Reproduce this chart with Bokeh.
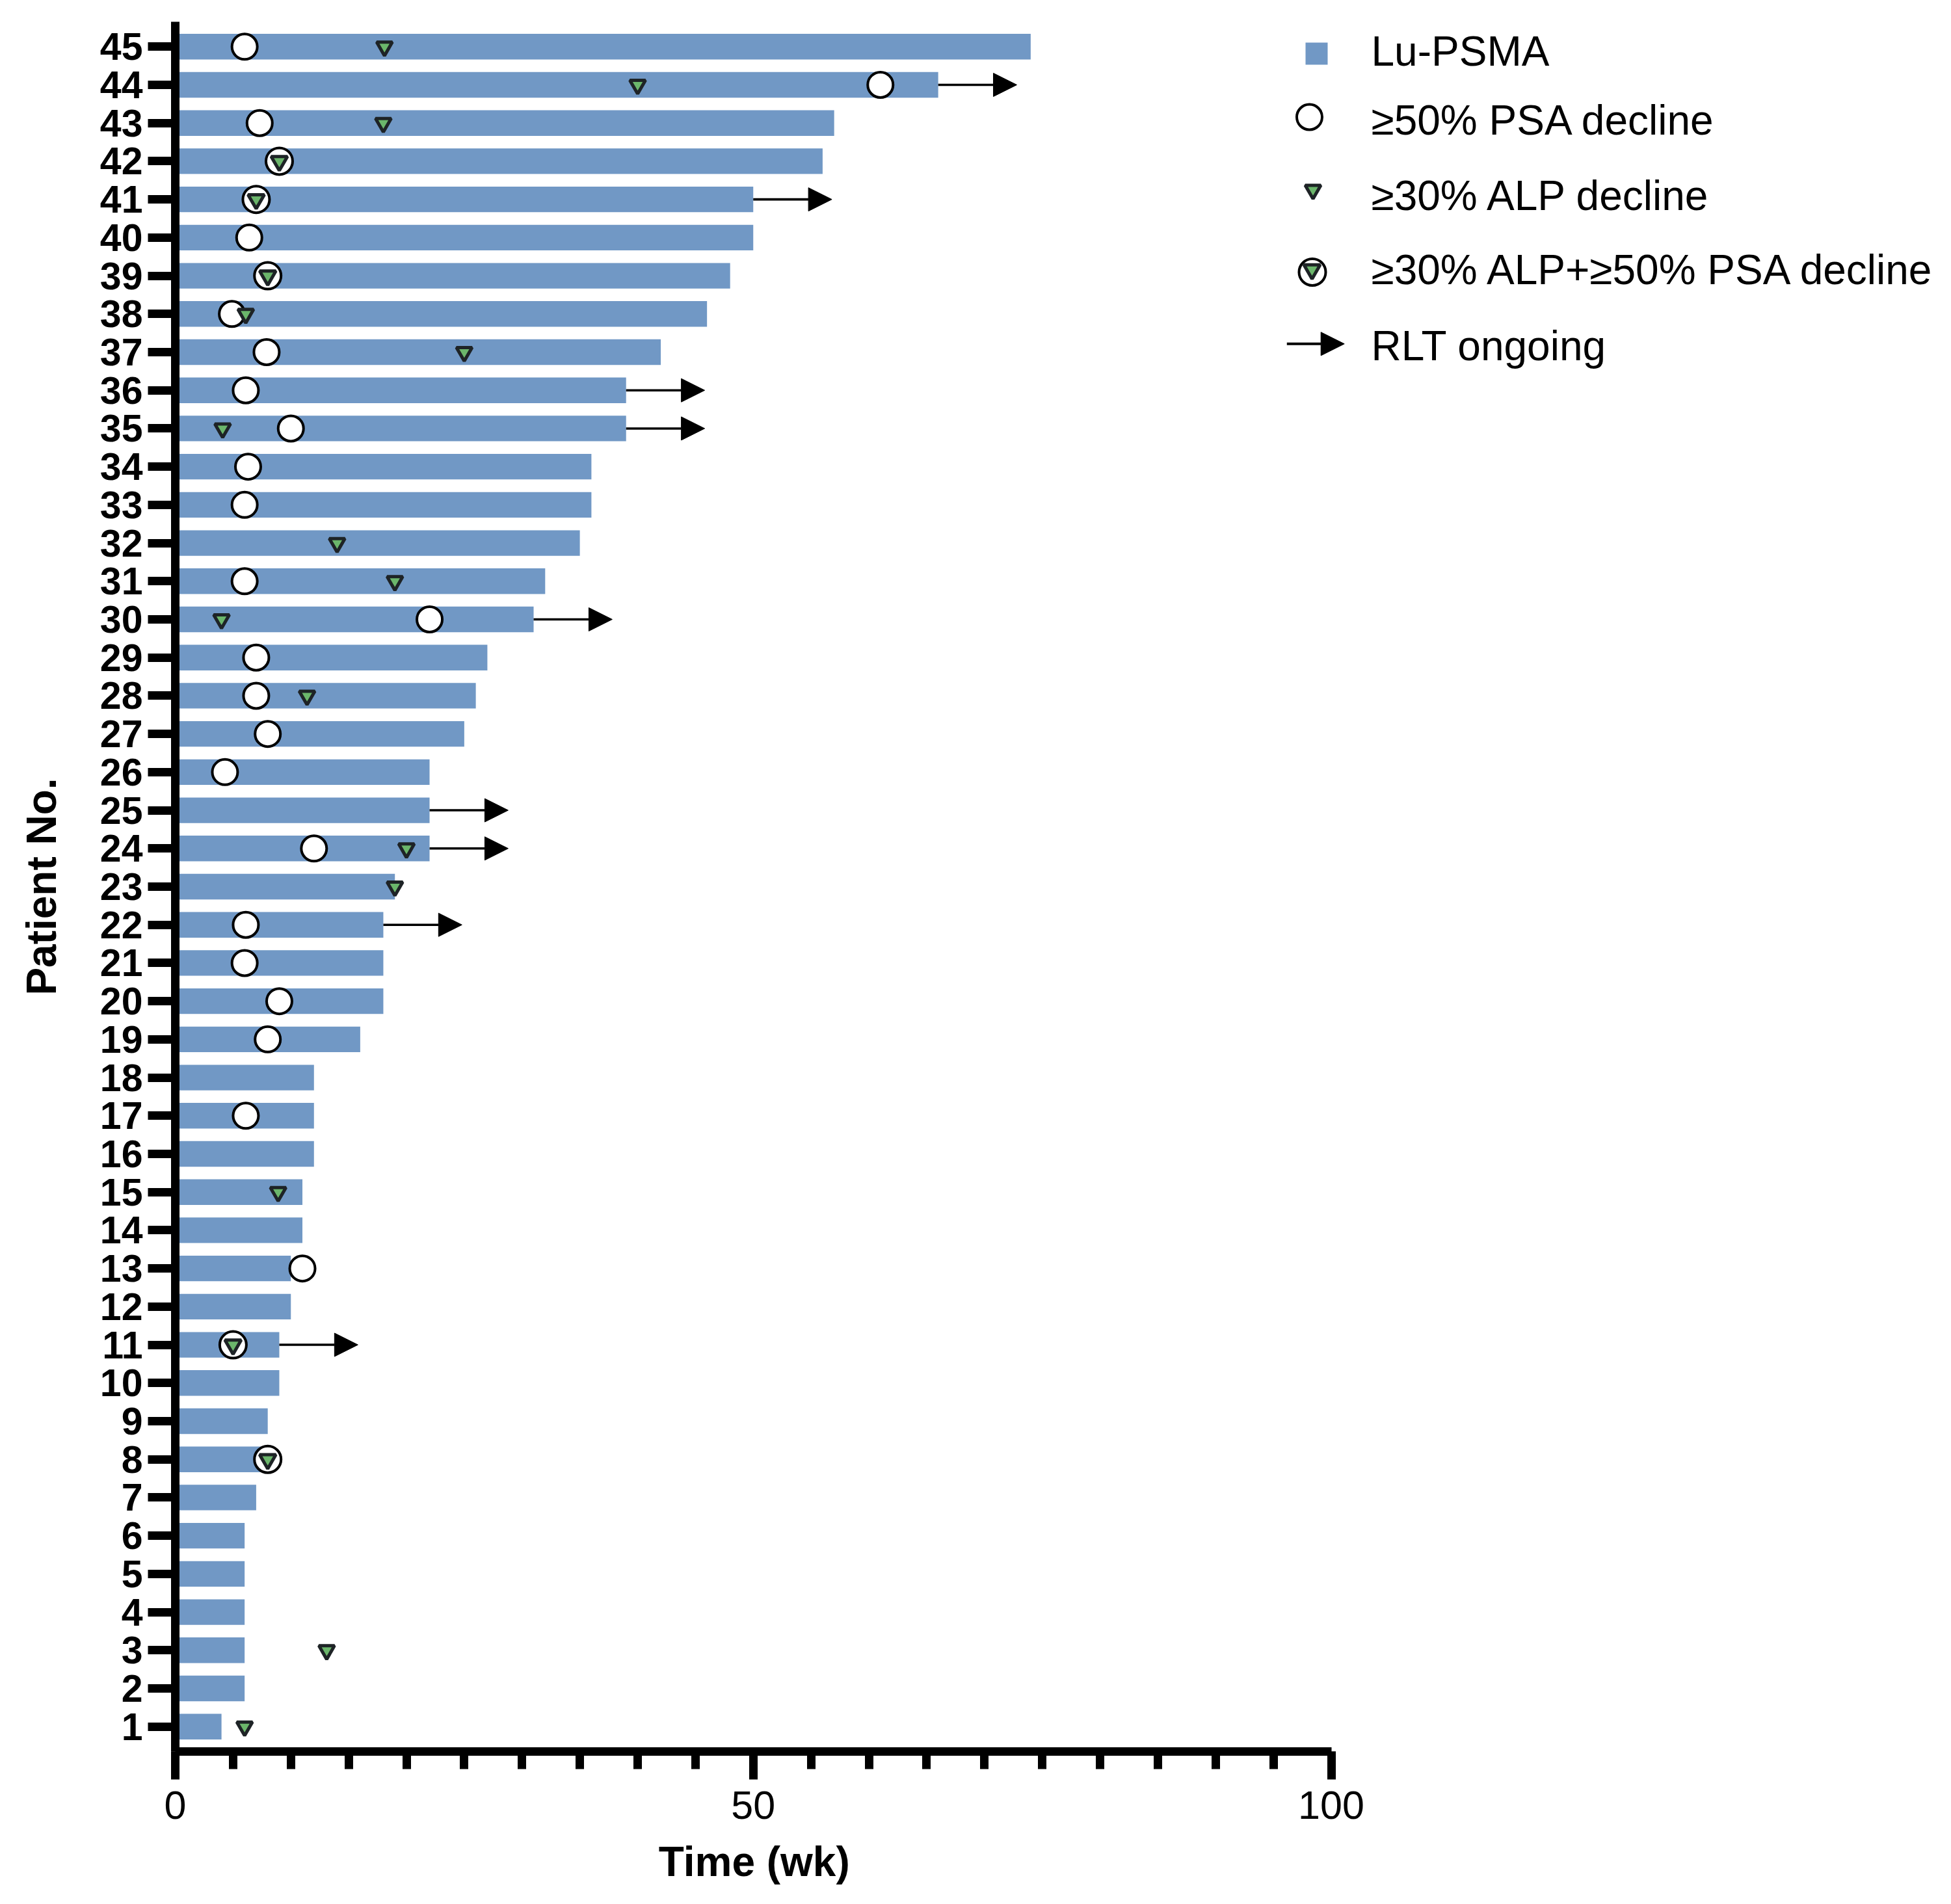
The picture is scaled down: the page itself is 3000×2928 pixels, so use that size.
from bokeh.plotting import figure
from bokeh.models import ColumnDataSource, Range1d, FixedTicker, Arrow, NormalHead, Title
from bokeh.core.properties import value
from bokeh.embed import file_html
from bokeh.resources import INLINE

# ---------------- data ----------------
patients = list(range(1, 46))
duration_wk = [4, 6, 6, 6, 6, 6, 7, 8, 8, 9, 9, 10, 10, 11, 11, 12, 12, 12, 16, 18,
               18, 18, 19, 22, 22, 22, 25, 26, 27, 31, 32, 35, 36, 36, 39, 39, 42, 46,
               48, 50, 50, 56, 57, 66, 74]
ongoing_patients = [11, 22, 24, 25, 30, 35, 36, 41, 44]

psa_patients = [13, 17, 19, 20, 21, 22, 24, 26, 27, 28, 29, 30, 31, 33, 34, 35, 36,
                37, 38, 40, 43, 44, 45]
psa_week = [11, 6.1, 8, 9, 6, 6.1, 12, 4.3, 8, 7, 7, 22, 6, 6, 6.3, 10, 6.1,
            7.9, 4.9, 6.4, 7.3, 61, 6]

alp_patients = [1, 3, 15, 23, 24, 28, 30, 31, 32, 35, 37, 38, 43, 44, 45]
alp_week = [6, 13.1, 8.9, 19, 20, 11.4, 4, 19, 14, 4.1, 25, 6.1, 18, 40, 18.1]

both_patients = [8, 11, 39, 41, 42]
both_week = [8, 5, 8, 7, 9]

legend_labels = ["Lu-PSMA", "\u226550% PSA decline", "\u226530% ALP decline",
                 "\u226530% ALP+\u226550% PSA decline", "RLT ongoing"]
x_ticks = [0, 50, 100]
x_minor_ticks = list(range(0, 101, 5))

# ---------------- style / layout ----------------
BAR_COLOR = "#7198C5"
GREEN = "#6BB66B"
DARK = "#1E2326"
FONT = "Liberation Sans"
ARROW_WK = 6.8          # drawn length of the "ongoing" arrow, in weeks

W, H = 2996, 2928
BORDER_L, BORDER_T = 269, 33
FRAME_W = W - BORDER_L
FRAME_H = 2660
BORDER_B = H - BORDER_T - FRAME_H
PX_PER_WK = 17.775
Y0, Y1 = 0.348, 45.652
X_TITLE_W = 291          # rendered width of the x title text, px

p = figure(width=W, height=H,
           x_range=Range1d(0, FRAME_W / PX_PER_WK),
           y_range=Range1d(Y0, Y1),
           output_backend="svg", toolbar_location=None,
           min_border_left=BORDER_L, min_border_right=0,
           min_border_top=BORDER_T, min_border_bottom=BORDER_B)
p.extra_x_ranges = {"px": Range1d(0, FRAME_W)}
p.extra_y_ranges = {"px": Range1d(FRAME_H, 0)}
p.outline_line_color = None
p.grid.visible = False
p.background_fill_color = "white"

# bars
bars = ColumnDataSource(dict(y=patients, right=duration_wk))
p.hbar(y="y", left=0, right="right", height=0.67, source=bars,
       fill_color=BAR_COLOR, line_color=None)

# ongoing arrows
dur = dict(zip(patients, duration_wk))
arr = ColumnDataSource(dict(
    x0=[dur[k] for k in ongoing_patients],
    x1=[dur[k] + ARROW_WK for k in ongoing_patients],
    y=ongoing_patients))
p.add_layout(Arrow(x_start="x0", y_start="y", x_end="x1", y_end="y", source=arr,
                   line_width=3.6, line_color="black",
                   end=NormalHead(size=36, fill_color="black", line_color="black",
                                  line_width=1)))

# PSA circles
p.scatter(x=psa_week, y=psa_patients, marker="circle", size=39,
          fill_color="white", line_color="black", line_width=4)
# combined circles
p.scatter(x=both_week, y=both_patients, marker="circle", size=41,
          fill_color="white", line_color="black", line_width=4)
# ALP triangles
p.scatter(x=alp_week, y=alp_patients, marker="inverted_triangle", size=24,
          fill_color=GREEN, line_color=DARK, line_width=5)
p.scatter(x=both_week, y=both_patients, marker="inverted_triangle", size=25,
          fill_color=GREEN, line_color=DARK, line_width=5)

# ---------------- axes ----------------
xa = p.xaxis[0]
xa.ticker = FixedTicker(ticks=x_ticks, minor_ticks=x_minor_ticks)
xa.bounds = (0, 100)
xa.axis_line_width = 13
xa.major_tick_line_width = 13
xa.minor_tick_line_width = 13
xa.major_tick_out = 43
xa.major_tick_in = 0
xa.minor_tick_out = 27
xa.minor_tick_in = 0
xa.major_label_text_font = FONT
xa.major_label_text_font_size = "61px"
xa.major_label_text_color = "black"
xa.major_label_standoff = 18

ya = p.yaxis[0]
ya.ticker = FixedTicker(ticks=patients, minor_ticks=[])
ya.axis_line_width = 13
ya.major_tick_line_width = 13
ya.major_tick_out = 42
ya.major_tick_in = 0
ya.minor_tick_out = 0
ya.minor_tick_in = 0
ya.major_label_text_font = FONT
ya.major_label_text_font_style = "bold"
ya.major_label_text_font_size = "59px"
ya.major_label_text_color = "black"
ya.major_label_standoff = 8
ya.axis_label = "Patient No."
ya.axis_label_text_font = FONT
ya.axis_label_text_font_style = "bold"
ya.axis_label_text_font_size = "64px"
ya.axis_label_text_color = "black"
ya.axis_label_standoff = 51

# x-axis title, centred under the 0-100 span of the (bounded) x axis
p.add_layout(Title(text="Time (wk)", align="left",
                   offset=50 * PX_PER_WK - X_TITLE_W / 2, standoff=51,
                   text_font=FONT, text_font_style="bold", text_font_size="64px",
                   text_color="black"), "below")

# ---------------- legend (frame pixel coordinates) ----------------
p.scatter(x=[1755], y=[49], marker="square", size=34, fill_color=BAR_COLOR,
          line_color=None, x_range_name="px", y_range_name="px")
p.scatter(x=[1744], y=[146.5], marker="circle", size=39, fill_color="white",
          line_color="black", line_width=4, x_range_name="px", y_range_name="px")
p.scatter(x=[1749.5], y=[258.5], marker="inverted_triangle", size=24, fill_color=GREEN,
          line_color=DARK, line_width=5, x_range_name="px", y_range_name="px")
p.scatter(x=[1748.5], y=[385], marker="circle", size=41, fill_color="white",
          line_color="black", line_width=4, x_range_name="px", y_range_name="px")
p.scatter(x=[1748], y=[381], marker="inverted_triangle", size=25, fill_color=GREEN,
          line_color=DARK, line_width=5, x_range_name="px", y_range_name="px")
p.add_layout(Arrow(x_start=1709.3, y_start=495.3, x_end=1797.7, y_end=495.3,
                   x_range_name="px", y_range_name="px",
                   line_width=4, line_color="black",
                   end=NormalHead(size=36, fill_color="black", line_color="black",
                                  line_width=1)))
leg = ColumnDataSource(dict(x=[1839] * 5, y=[45, 151, 267, 381, 498],
                            text=legend_labels))
p.text(x="x", y="y", text="text", source=leg, x_range_name="px", y_range_name="px",
       text_font=value(FONT), text_font_size="64px", text_color="black",
       text_baseline="alphabetic", text_align="left")

open("out.html", "w").write(file_html(p, INLINE))
